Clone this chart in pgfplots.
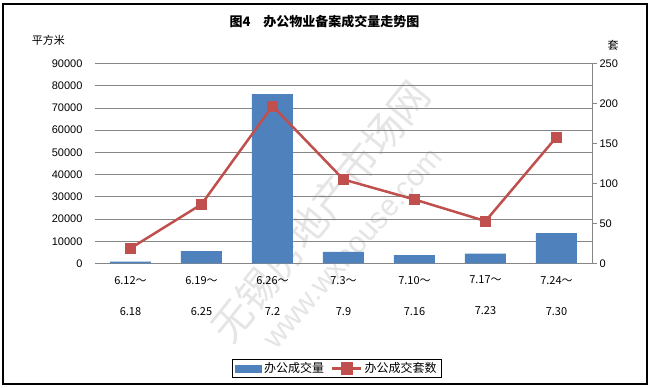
\documentclass[border=0pt]{standalone}
\usepackage{pgfplots}
\pgfplotsset{compat=1.18}
\usepackage{fontspec}
\setmainfont{Liberation Sans}
\newfontfamily\cjk{Noto Sans CJK SC}
\definecolor{barblue}{HTML}{4F81BD}
\definecolor{linered}{HTML}{C0504D}
\definecolor{gridgray}{HTML}{868686}
\begin{document}
\begin{tikzpicture}
% decoration coordinates: image px relative to plot origin (95,263.5), in pt
\fill[white] (-95pt,-124.5pt) rectangle (554pt,263.5pt);
\node[rotate=51, text=black!10, font=\cjk\fontsize{40}{42}\selectfont] at (225pt,52pt) {无锡房地产市场网};
\node[rotate=49, text=black!10, font=\fontsize{30}{32}\selectfont] at (257pt,16pt) {www.wxhouse.com};
\begin{axis}[
  name=main,
  scale only axis, width=497pt, height=200pt,
  xmin=-0.5, xmax=6.5, ymin=0, ymax=90000,
  ytick distance=10000,
  scaled y ticks=false,
  yticklabel style={/pgf/number format/fixed, /pgf/number format/1000 sep={}, font=\fontsize{11}{12}\selectfont, xshift=-9pt},
  /pgf/number format/assume math mode=true,
  ymajorgrids, major grid style={gridgray, line width=0.8pt},
  axis line style={draw=none},
  major tick length=0pt,
  xtick={0,1,2,3,4,5,6},
  xticklabels={{6.12～\\[19pt]6.18},{6.19～\\[19pt]6.25},{6.26～\\[19pt]7.2},{7.3～\\[19pt]7.9},{7.10～\\[19pt]7.16},{7.17～\\[19pt]7.23},{7.24～\\[19pt]7.30}},
  xticklabel style={align=center, font=\cjk\fontsize{11}{12}\selectfont, yshift=-9pt},
  clip=false,
]
\addplot[ybar, bar width=41pt, fill=barblue, draw=none] coordinates {
(0,800) (1,5600) (2,76200) (3,5200) (4,3800) (5,4400) (6,13700)};
\end{axis}
\begin{axis}[
  scale only axis, width=497pt, height=200pt,
  xmin=-0.5, xmax=6.5, ymin=0, ymax=250,
  ytick distance=50,
  axis x line=none,
  axis y line*=right,
  y axis line style={gridgray, line width=0.8pt},
  ytick style={gridgray, line width=0.8pt},
  tick align=outside, major tick length=5pt,
  yticklabel style={font=\fontsize{11}{12}\selectfont, xshift=-1pt},
  /pgf/number format/assume math mode=true,
  legend style={at={(0.487,-0.525)}, anchor=center, legend columns=2, draw=black, line width=0.8pt,
    font=\cjk\fontsize{12}{14}\selectfont, inner xsep=3pt, inner ysep=1pt,
    /tikz/every even column/.append style={column sep=5pt}},
  legend cell align=left,
  clip=false,
]
\addlegendimage{legend image code/.code={\fill[barblue] (0pt,-3.5pt) rectangle (26pt,3.5pt);}}
\addlegendentry{办公成交量}
\addplot[linered, line width=2.5pt, mark=square*, mark size=5pt, mark options={fill=linered, line width=0.3pt},
  legend image code/.code={\draw[linered, line width=2.5pt] (0pt,0pt) -- (29pt,0pt); \fill[linered] (9.5pt,-5pt) rectangle (19.5pt,5pt);}] coordinates {
(0,19) (1,74) (2,197) (3,105) (4,80) (5,53) (6,158)};
\addlegendentry{办公成交套数}
\end{axis}
\draw[black, line width=1.5pt] (-92pt,-120.5pt) rectangle (552pt,259.5pt);
\node[font=\cjk\bfseries\fontsize{13}{15}\selectfont] at (229.5pt,242pt) {图4\hspace{13pt}办公物业备案成交量走势图};
\node[font=\cjk\fontsize{11}{13}\selectfont] at (-46.5pt,223.5pt) {平方米};
\node[font=\cjk\fontsize{11}{13}\selectfont] at (518pt,218.5pt) {套};
\useasboundingbox (-95pt,-124.5pt) rectangle (554pt,263.5pt);
\end{tikzpicture}
\end{document}
